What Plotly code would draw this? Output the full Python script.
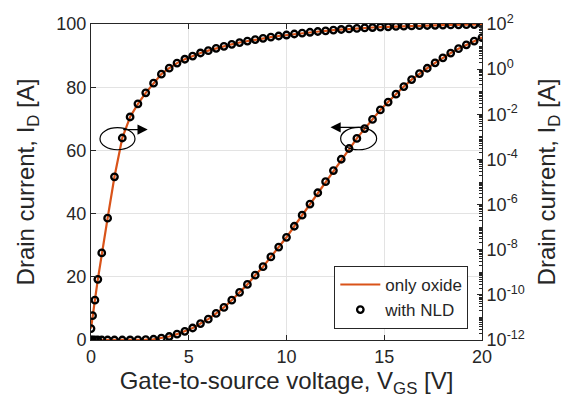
import numpy as np
import plotly.graph_objects as go

# Gate-to-source voltage sweep [V]
vgs = [0, 0.08, 0.2, 0.35, 0.55, 0.85, 1.2, 1.6,
       2.0, 2.4, 2.8, 3.2, 3.6, 4.0, 4.4, 4.8, 5.2, 5.6,
       6.0, 6.4, 6.8, 7.2, 7.6, 8.0, 8.4, 8.8, 9.2, 9.6,
       10.0, 10.4, 10.8, 11.2, 11.6, 12.0, 12.4, 12.8, 13.2, 13.6,
       14.0, 14.4, 14.8, 15.2, 15.6, 16.0, 16.4, 16.8, 17.2, 17.6,
       18.0, 18.4, 18.8, 19.2, 19.6, 20.0]

# Drain current [A], oxide-only model
id_only_oxide = [3.2e-12, 1.2e-11, 5.8e-11, 4.9e-10, 7.2e-9, 2.5e-7, 1.7e-5, 8.9e-4,
                 7.6e-3, 0.029, 0.089, 0.24, 0.6, 1.1, 1.85, 2.75, 3.8, 5.2,
                 6.6, 8.4, 10.3, 12.6, 15.1, 17.6, 20.5, 23.2, 26.3, 29.4,
                 32.5, 36.0, 39.5, 43.0, 46.6, 50.1, 53.6, 57.2, 60.6, 63.8,
                 66.9, 69.8, 72.8, 75.3, 77.8, 80.2, 82.4, 84.3, 86.0, 87.7,
                 89.3, 90.8, 92.2, 93.4, 94.6, 95.7]

# Drain current [A], model including the non-linear dielectric
id_with_nld = [3.2e-12, 1.2e-11, 5.8e-11, 4.9e-10, 7.2e-9, 2.5e-7, 1.7e-5, 8.9e-4,
               7.6e-3, 0.029, 0.089, 0.24, 0.6, 1.1, 1.85, 2.75, 3.8, 5.2,
               6.6, 8.4, 10.3, 12.6, 15.1, 17.6, 20.5, 23.2, 26.3, 29.4,
               32.5, 36.0, 39.5, 43.0, 46.6, 50.1, 53.6, 57.2, 60.6, 63.8,
               66.9, 69.8, 72.8, 75.3, 77.8, 80.2, 82.4, 84.3, 86.0, 87.7,
               89.3, 90.8, 92.2, 93.4, 94.6, 95.7]

x_ticks = [0, 5, 10, 15, 20]
y_lin_ticks = [0, 20, 40, 60, 80, 100]
y_log_exps = [-12, -10, -8, -6, -4, -2, 0, 2]

ORANGE = "#D95319"
INK = "#262626"
FONT = "Liberation Sans, Arial, sans-serif"

fig = go.Figure()

# linear scale (left axis)
fig.add_trace(go.Scatter(x=vgs, y=id_only_oxide, mode="lines", name="only oxide",
                         line=dict(color=ORANGE, width=2.2), legendrank=1))
fig.add_trace(go.Scatter(x=vgs, y=id_with_nld, mode="markers", name="with NLD",
                         marker=dict(symbol="circle-open", size=6.5, color="black",
                                     line=dict(width=2.3, color="black")),
                         legendrank=2))
# log scale (right axis)
fig.add_trace(go.Scatter(x=vgs, y=id_only_oxide, mode="lines", yaxis="y2", showlegend=False,
                         line=dict(color=ORANGE, width=2.2)))
fig.add_trace(go.Scatter(x=vgs, y=id_with_nld, mode="markers", yaxis="y2", showlegend=False,
                         marker=dict(symbol="circle-open", size=6.5, color="black",
                                     line=dict(width=2.3, color="black"))))

# minor ticks for the log axis
minor_vals = []
for k in range(-12, 2):
    for m in range(2, 10):
        minor_vals.append(m * 10.0 ** k)
for k in range(-11, 2, 2):
    minor_vals.append(10.0 ** k)

# ellipses marking which axis each curve belongs to
fig.add_shape(type="circle", xref="x", yref="y", x0=0.46, x1=2.25, y0=60.2, y1=67.2,
              line=dict(color="black", width=1.2))
fig.add_shape(type="circle", xref="x", yref="y", x0=12.77, x1=14.61, y0=60.2, y1=67.3,
              line=dict(color="black", width=1.2))
fig.add_annotation(x=2.9, y=66.6, ax=1.57, ay=66.6, xref="x", yref="y", axref="x", ayref="y",
                   showarrow=True, arrowhead=2, arrowsize=1.7, arrowwidth=1.2,
                   arrowcolor="black", text="")
fig.add_annotation(x=12.25, y=67.3, ax=13.93, ay=67.3, xref="x", yref="y", axref="x", ayref="y",
                   showarrow=True, arrowhead=2, arrowsize=1.7, arrowwidth=1.2,
                   arrowcolor="black", text="")

axis_common = dict(showline=True, linecolor=INK, linewidth=1, ticks="inside", ticklen=5,
                   tickcolor=INK, tickfont=dict(size=18, color=INK, family=FONT),
                   zeroline=False)

fig.update_layout(
    width=584, height=410,
    margin=dict(l=91, r=102, t=17, b=70),
    paper_bgcolor="white", plot_bgcolor="white",
    font=dict(family=FONT, color=INK),
    xaxis=dict(range=[0, 20], tickvals=x_ticks, showgrid=True, gridcolor="#e3e3e3",
               mirror="ticks",
               title=dict(text="Gate-to-source voltage, V<sub>GS</sub> [V]",
                          font=dict(size=24, color=INK, family=FONT), standoff=4),
               **axis_common),
    yaxis=dict(range=[0, 100], tickvals=y_lin_ticks, showgrid=True, gridcolor="#e3e3e3",
               title=dict(text="Drain current, I<sub>D</sub> [A]",
                          font=dict(size=24, color=INK, family=FONT), standoff=14),
               **axis_common),
    yaxis2=dict(type="log", range=[-12, 2], overlaying="y", side="right",
                tickvals=[10.0 ** e for e in y_log_exps],
                ticktext=[f"10<sup>{e}</sup>" for e in y_log_exps],
                showgrid=False,
                minor=dict(tickmode="array", tickvals=minor_vals, ticks="inside",
                           ticklen=3, tickcolor=INK, showgrid=False),
                title=dict(text="Drain current, I<sub>D</sub> [A]",
                           font=dict(size=24, color=INK, family=FONT), standoff=14),
                **axis_common),
    legend=dict(x=0.965, y=0.035, xanchor="right", yanchor="bottom",
                bgcolor="white", bordercolor=INK, borderwidth=1,
                font=dict(size=17, color=INK, family=FONT),
                tracegroupgap=0, itemwidth=40),
    showlegend=True,
)

fig.write_html("out.html")
